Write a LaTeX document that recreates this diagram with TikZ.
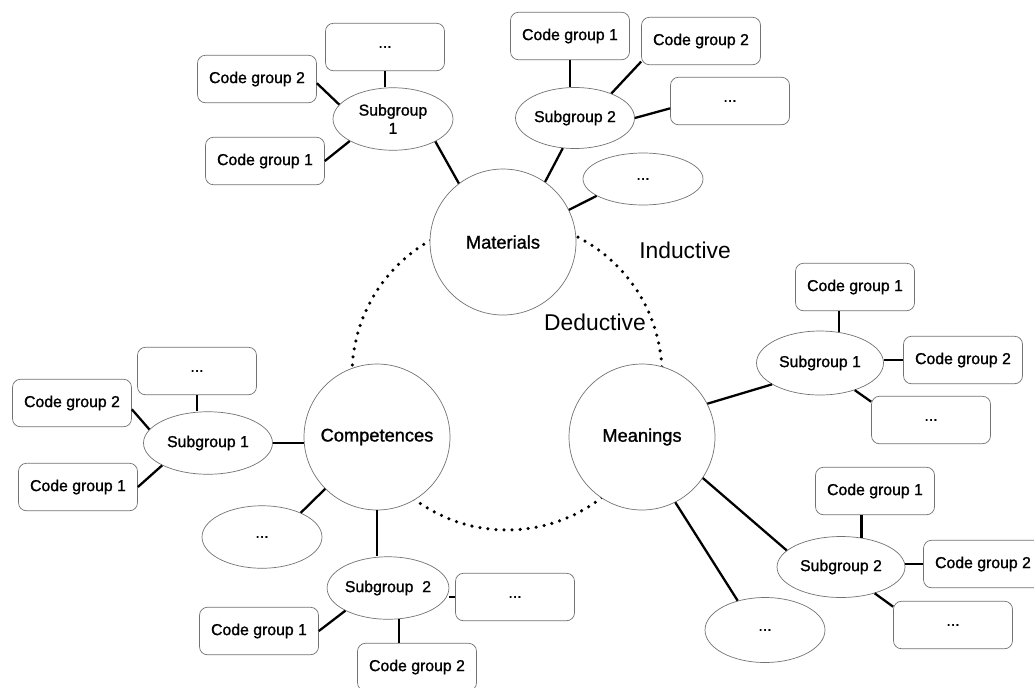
\documentclass[tikz,border=0pt]{standalone}
\usepackage{fontspec}
\setmainfont{Liberation Sans}
\newfontfamily\medsans{Liberation Sans}[BoldFont=Liberation Sans,BoldFeatures={FakeBold=1.2}]
\usetikzlibrary{shapes.geometric}

\begin{document}
\begin{tikzpicture}[x=0.02cm,y=-0.02cm,
    theme/.style={circle,draw=black!55,fill=white,minimum size=2.92cm,inner sep=0pt,font=\medsans\bfseries\fontsize{10.4}{12}\selectfont},
    subgroup/.style={ellipse,draw=black!55,fill=white,minimum width=2.5cm,minimum height=1.25cm,inner sep=0pt,align=center,font=\medsans\bfseries\fontsize{9}{10.4}\selectfont},
    codebox/.style={rectangle,rounded corners=0.16cm,draw=black!55,fill=white,minimum width=2.38cm,minimum height=0.95cm,font=\medsans\bfseries\fontsize{9}{10.4}\selectfont},
    link/.style={line width=1.3pt},
    mode/.style={font=\fontsize{13}{15}\selectfont}]
\clip (0,0) rectangle (1034,687);

% Dotted ring behind the three themes
\draw[line width=2pt,line cap=round,dash pattern=on 0pt off 4.6pt] (507,375) circle (3.1cm);

% Themes
\node[theme] (mat) at (503,242) {Materials};
\node[theme] (comp) at (377,437) {Competences};
\node[theme] (mean) at (642,437) {Meanings};
\node[mode] (ind) at (685,250) {Inductive};
\node[mode] (ded) at (595,322) {Deductive};

% Materials, left branch
\node[codebox] (tldots) at (385,47) {...};
\node[codebox] (tlcgb) at (257,79) {Code group 2};
\node[codebox] (tlcga) at (265,161) {Code group 1};
\node[subgroup,minimum width=2.4cm] (tlsub) at (393,119) {Subgroup\\1};

% Materials, right branch
\node[codebox] (trcga) at (570,36) {Code group 1};
\node[codebox] (trcgb) at (701,41) {Code group 2};
\node[codebox] (trdots) at (730,101) {...};
\node[subgroup,minimum width=2.38cm,minimum height=1.22cm] (trsub) at (575,118) {Subgroup 2};
\node[subgroup,minimum width=2.4cm,minimum height=1.04cm] (trell) at (643,179) {...};

% Competences
\node[codebox] (ldots) at (197,371) {...};
\node[codebox] (lcgb) at (72,403) {Code group 2};
\node[codebox] (lcga) at (78,487) {Code group 1};
\node[subgroup,minimum width=2.58cm] (lsub) at (208,443) {Subgroup 1};
\node[subgroup,minimum width=2.4cm] (lell) at (262,537) {...};
\node[subgroup,minimum width=2.42cm] (bsub) at (388,588) {Subgroup~~2};
\node[codebox] (bdots) at (515,597) {...};
\node[codebox] (bcga) at (259,631) {Code group 1};
\node[codebox] (bcgb) at (417,667) {Code group 2};

% Meanings
\node[codebox] (rcga) at (855,287) {Code group 1};
\node[codebox] (rcgb) at (963,360) {Code group 2};
\node[codebox] (rdots) at (931,420) {...};
\node[subgroup,minimum width=2.54cm,minimum height=1.28cm] (rsub) at (820,363) {Subgroup 1};
\node[codebox] (rlcga) at (875,491) {Code group 1};
\node[codebox] (rlcgb) at (983,564) {Code group 2};
\node[codebox] (rldots) at (953,625) {...};
\node[subgroup,minimum width=2.56cm,minimum height=1.22cm] (rlsub) at (841,567) {Subgroup 2};
\node[subgroup,minimum width=2.4cm,minimum height=1.3cm] (rlell) at (765,630) {...};

% Slanted links
\foreach \a/\b in {tlcgb.-4/tlsub.165, tlcga.east/tlsub.207, tlsub.-28/mat.127,
    trcgb.199/trsub.34, trdots.187/trsub.east, trsub.248/mat.55, trell.200/mat.26,
    lcgb.-6/lsub.167, lcga.east/lsub.206, lell.32/comp.225, bcga.east/bsub.208,
    mean.27/rsub.204, rsub.-38/rdots.163,
    mean.-34/rlsub.163, rlsub.-38/rldots.163, mean.-63/rlell.133}
    \draw[link] (\a) -- (\b);

% Straight links
\draw[link] (tldots.south) -- (tldots.south |- tlsub.north);
\draw[link] (trcga.south) -- (trcga.south |- trsub.north);
\draw[link] (ldots.south) -- (ldots.south |- lsub.north);
\draw[link] (lsub.east) -- (lsub.east -| comp.west);
\draw[link] (comp.south) -- (comp.south |- bsub.north);
\draw[link] (bdots.west) -- (bdots.west -| bsub.east);
\draw[link] (bsub.-70) -- (bsub.-70 |- bcgb.north);
\draw[link] (rsub.58) -- (rsub.58 |- rcga.south);
\draw[link] (rcgb.west) -- (rcgb.west -| rsub.east);
\draw[link] (rlsub.55) -- (rlsub.55 |- rlcga.south);
\draw[link] (rlcgb.west) -- (rlcgb.west -| rlsub.east);
\end{tikzpicture}
\end{document}
